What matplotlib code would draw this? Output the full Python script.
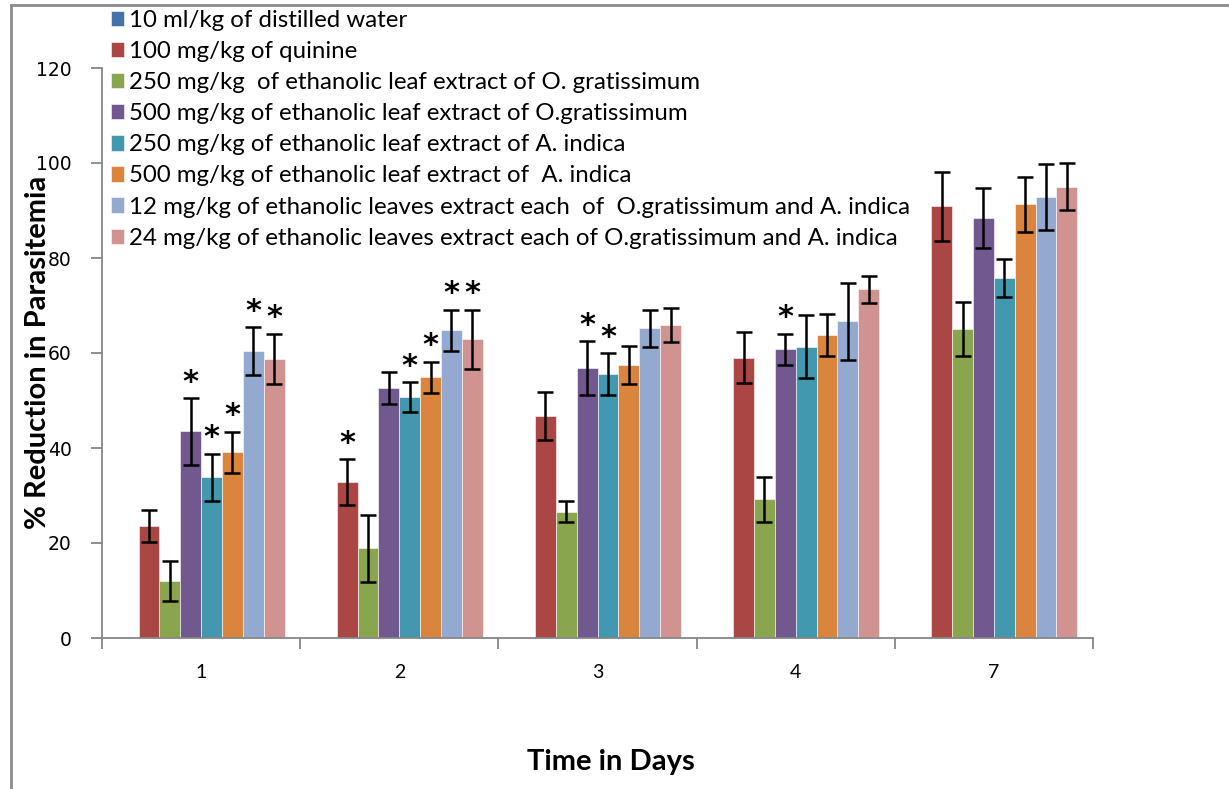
import numpy as np
import matplotlib
matplotlib.use("Agg")
from matplotlib import pyplot as plt
from matplotlib.lines import Line2D

# ----------------------- data ----------------------- #
days = ["1", "2", "3", "4", "7"]

series_names = [
    "10 ml/kg of distilled water",
    "100 mg/kg of quinine",
    "250 mg/kg  of ethanolic leaf extract of O. gratissimum",
    "500 mg/kg of ethanolic leaf extract of O.gratissimum",
    "250 mg/kg of ethanolic leaf extract of A. indica",
    "500 mg/kg of ethanolic leaf extract of  A. indica",
    "12 mg/kg of ethanolic leaves extract each  of  O.gratissimum and A. indica",
    "24 mg/kg of ethanolic leaves extract each of O.gratissimum and A. indica",
]

water = [0, 0, 0, 0, 0]
quinine = [23.6, 32.8, 46.7, 59.0, 90.9]
og_250 = [12.0, 18.9, 26.6, 29.2, 65.0]
og_500 = [43.5, 52.6, 56.8, 60.8, 88.5]
ai_250 = [33.8, 50.7, 55.6, 61.3, 75.8]
ai_500 = [39.1, 54.9, 57.5, 63.8, 91.3]
mix_12 = [60.4, 64.8, 65.2, 66.7, 92.8]
mix_24 = [58.8, 62.9, 65.9, 73.4, 95.0]

water_err = [0, 0, 0, 0, 0]
quinine_err = [3.3, 4.8, 5.0, 5.4, 7.3]
og_250_err = [4.2, 7.1, 2.2, 4.7, 5.7]
og_500_err = [7.0, 3.3, 5.7, 3.3, 6.3]
ai_250_err = [5.0, 3.1, 4.4, 6.6, 4.0]
ai_500_err = [4.3, 3.3, 4.0, 4.4, 5.8]
mix_12_err = [5.0, 4.3, 3.9, 8.1, 6.9]
mix_24_err = [5.3, 6.2, 3.5, 2.9, 4.9]

# significance marks (1 = asterisk shown)
water_sig = [0, 0, 0, 0, 0]
quinine_sig = [0, 1, 0, 0, 0]
og_250_sig = [0, 0, 0, 0, 0]
og_500_sig = [1, 0, 1, 1, 0]
ai_250_sig = [1, 1, 1, 0, 0]
ai_500_sig = [1, 1, 0, 0, 0]
mix_12_sig = [1, 1, 0, 0, 0]
mix_24_sig = [1, 1, 0, 0, 0]

colors = ["#4572A7", "#AA4643", "#89A54E", "#71588F",
          "#4198AF", "#DB843D", "#93A9CF", "#D19392"]

values = [water, quinine, og_250, og_500, ai_250, ai_500, mix_12, mix_24]
errors = [water_err, quinine_err, og_250_err, og_500_err,
          ai_250_err, ai_500_err, mix_12_err, mix_24_err]
signif = [water_sig, quinine_sig, og_250_sig, og_500_sig,
          ai_250_sig, ai_500_sig, mix_12_sig, mix_24_sig]

# ----------------------- figure ----------------------- #
fig = plt.figure(figsize=(12.29, 7.89), dpi=100)
ax = fig.add_axes([102 / 1229, 1 - 638 / 789, (1093 - 102) / 1229, (638 - 68) / 789])

txt_font = "Lato"
x = np.arange(len(days))
n = len(values)
w = 1 / (n + 1.5)

handles = []
for i in range(n):
    pos = x + (i - (n - 1) / 2) * w
    b = ax.bar(pos, values[i], w, color=colors[i], edgecolor="white", linewidth=0.4,
               label=series_names[i], zorder=2)
    handles.append(b)
    if i > 0:
        ax.errorbar(pos, values[i], yerr=errors[i], fmt="none", ecolor="black",
                    elinewidth=1.8, capsize=6, capthick=1.8, zorder=3)
    for j in range(len(days)):
        if signif[i][j]:
            ax.annotate("*", (pos[j], values[i][j] + errors[i][j]),
                        xytext=(0, 1), textcoords="offset points",
                        ha="center", va="bottom", fontsize=22, fontweight="bold",
                        family="DejaVu Sans", zorder=4)

ax.set_xlim(-0.5, len(days) - 0.5)
ax.set_ylim(0, 120)
ax.set_yticks(range(0, 121, 20))
ax.set_xticks(x)
ax.set_xticklabels(days, family=txt_font, fontsize=14)
ax.set_xticks(np.arange(-0.5, len(days), 1), minor=True)
ax.tick_params(axis="x", which="major", length=0, pad=19)
ax.tick_params(axis="x", which="minor", length=8, color="#868686", width=1.3)
ax.tick_params(axis="y", length=8, color="#868686", width=1.3, labelsize=13.5, pad=14)

for s in ["top", "right"]:
    ax.spines[s].set_visible(False)
for s in ["left", "bottom"]:
    ax.spines[s].set_color("#868686")
    ax.spines[s].set_linewidth(1.3)

fig.text(611 / 1229, 1 - 762 / 789, "Time in Days", ha="center", va="center",
         fontsize=21, fontweight="bold", family=txt_font)
fig.text(38 / 1229, 1 - 352 / 789, "% Reduction in Parasitemia", ha="center",
         va="center", rotation=90, fontsize=21, fontweight="bold", family=txt_font)

fig.legend(handles=handles, loc="upper left", bbox_to_anchor=(111 / 1229, 1 - 10 / 789),
           frameon=False, prop={"family": txt_font, "size": 17.3},
           handlelength=0.55, handleheight=0.6, handletextpad=0.2,
           labelspacing=0.42, borderaxespad=0, borderpad=0)

# outer chart border (top and left visible)
fig.add_artist(Line2D([11 / 1229, 1], [1 - 5 / 789, 1 - 5 / 789], color="#8c8c8c", lw=2))
fig.add_artist(Line2D([11 / 1229, 11 / 1229], [0, 1 - 5 / 789], color="#8c8c8c", lw=2))

fig.savefig("out.png", dpi=100)
